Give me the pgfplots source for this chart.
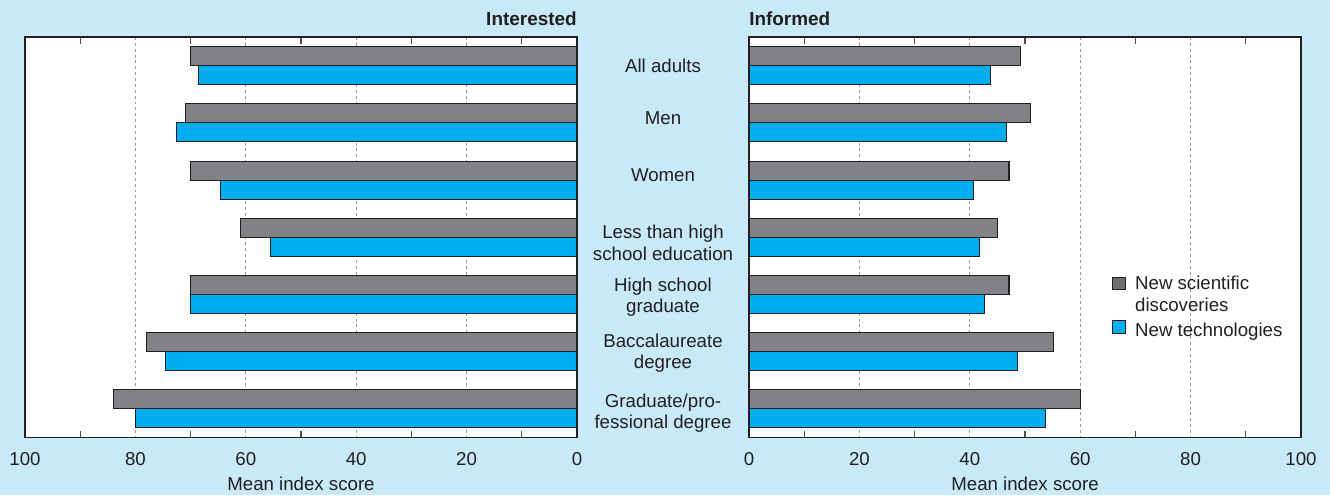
\documentclass[border=0pt]{standalone}
\usepackage{fontspec}
\setmainfont{Liberation Sans}
\usepackage{pgfplots}
\pgfplotsset{compat=1.18}
\usepackage{pgfplotstable}
\definecolor{bgblue}{HTML}{C7E9F8}
\definecolor{bargray}{HTML}{808285}
\definecolor{legendgray}{HTML}{6D6E71}
\definecolor{barblue}{HTML}{00AEEF}
\definecolor{edge}{HTML}{231F20}
\definecolor{gridgray}{HTML}{9A9A9A}

\pgfplotstableread{
idx sciInt techInt sciInf techInf
0 70.0 68.5 49.1 43.7
1 71.0 72.5 51.0 46.7
2 70.0 64.5 47.1 40.7
3 61.0 55.6 45.1 41.7
4 70.0 70.0 47.1 42.7
5 78.0 74.5 55.1 48.7
6 84.0 80.0 60.0 53.7
}\data

\pgfplotsset{
  panel/.style={
    scale only axis,
    width=414pt, height=300.4pt,
    xmin=0, xmax=100, ymin=-0.5, ymax=6.5,
    y dir=reverse,
    axis background/.style={fill=white},
    axis line style={draw=edge, line width=1pt},
    xtick={0,20,...,100},
    minor xtick={10,30,...,90},
    major tick length=0pt,
    minor tick length=5pt,
    tick align=inside,
    xtick pos=both,
    minor tick style={draw=edge!80, line width=0.8pt},
    xmajorgrids,
    major grid style={draw=gridgray, line width=0.9pt, dash pattern=on 2.2pt off 2.2pt},
    ytick=\empty,
    xbar, bar width=0.332, bar shift=0pt,
    every axis plot/.append style={draw=edge, line width=0.8pt},
    /pgf/number format/assume math mode=true,
    xticklabel style={font=\fontsize{14}{16}\selectfont, anchor=base, yshift=-20.6pt, text=edge},
    clip=false,
  }
}

\begin{document}
\begin{tikzpicture}
\fill[bgblue] (0pt,0pt) rectangle (997.5pt,371.25pt);

% Left panel: Interested
\begin{axis}[panel, at={(18.75pt,43.1pt)}, anchor=south west, x dir=reverse]
\addplot[fill=bargray] table[x=sciInt, y expr=\thisrow{idx}-0.166] {\data};
\addplot[fill=barblue] table[x=techInt, y expr=\thisrow{idx}+0.166] {\data};
\node[anchor=base, yshift=-40pt, font=\fontsize{14}{16}\selectfont, text=edge] at (rel axis cs:0.5,0) {Mean index score};
\node[anchor=base east, inner sep=0pt, font=\fontsize{14.2}{16}\selectfont\bfseries, text=edge] at ([yshift=8.5pt]rel axis cs:1,1) {Interested};
\end{axis}

% Right panel: Informed
\begin{axis}[panel, at={(561.75pt,43.1pt)}, anchor=south west,
  ytick={0.01,0.913,1.92,3.10,4.05,5.03,6.07},
  yticklabels={All adults, Men, Women, {Less than high\\school education}, {High school\\graduate}, {Baccalaureate\\degree}, {Graduate/pro-\\fessional degree}},
  yticklabel style={font=\fontsize{14}{16}\selectfont, align=center, anchor=center, xshift=-64.5pt, text=edge},
  ytick style={draw=none},
  legend style={at={(0.65,0.418)}, anchor=north west, draw=none, fill=none,
    font=\fontsize{14}{16.5}\selectfont, cells={align=left, anchor=west}, row sep=3pt, text=edge},
  legend cell align=left,
]
\addplot[fill=bargray, legend image code/.code={\draw[draw=edge, fill=legendgray, line width=0.8pt] (0pt,3.5pt) rectangle (9.5pt,13pt); \path (14.5pt,0pt);}] table[x=sciInf, y expr=\thisrow{idx}-0.166] {\data};
\addlegendentry{New scientific\\discoveries}
\addplot[fill=barblue, legend image code/.code={\draw[draw=edge, fill=barblue, line width=0.8pt] (0pt,-1.5pt) rectangle (9.5pt,8pt); \path (14.5pt,0pt);}] table[x=techInf, y expr=\thisrow{idx}+0.166] {\data};
\addlegendentry{New technologies}
\node[anchor=base, yshift=-40pt, font=\fontsize{14}{16}\selectfont, text=edge] at (rel axis cs:0.5,0) {Mean index score};
\node[anchor=base west, inner sep=0pt, font=\fontsize{14.2}{16}\selectfont\bfseries, text=edge] at ([yshift=8.5pt]rel axis cs:0,1) {Informed};
\end{axis}
\end{tikzpicture}
\end{document}
